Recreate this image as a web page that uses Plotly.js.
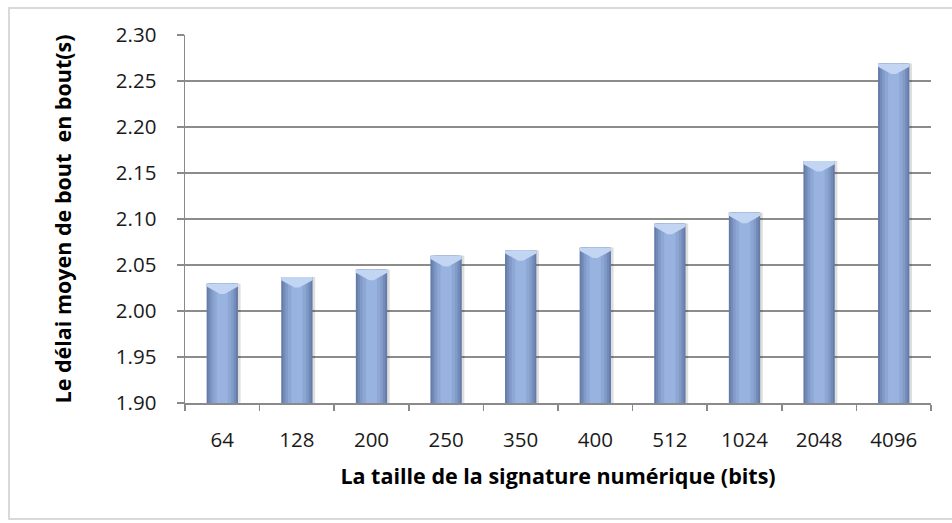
<!DOCTYPE html>
<html>
<head>
<meta charset="utf-8">
<script src="https://cdn.plot.ly/plotly-3.0.1.min.js"></script>
<style>
  html, body { margin: 0; padding: 0; background: #ffffff; overflow: hidden; width: 952px; height: 523px; }
  #frame { position: absolute; left: 8px; top: 7px; width: 980px; height: 513px;
           border: 2px solid #d9d9d9; box-sizing: border-box; }
  #chart { position: absolute; left: 0; top: 0; width: 952px; height: 523px; }
</style>
</head>
<body>
<div id="frame"></div>
<div id="chart"></div>
<script>
// Signature sizes (bits) and mean end-to-end delay (s)
const signatureSizes = ['64', '128', '200', '250', '350', '400', '512', '1024', '2048', '4096'];
const meanDelay = [2.030, 2.037, 2.045, 2.060, 2.066, 2.069, 2.095, 2.107, 2.163, 2.269];
const yTickVals = [1.90, 1.95, 2.00, 2.05, 2.10, 2.15, 2.20, 2.25, 2.30];
const yTickText = ['1.90', '1.95', '2.00', '2.05', '2.10', '2.15', '2.20', '2.25', '2.30'];

const yMin = 1.90, yMax = 2.30;
const barWidth = 0.42;

// Layered bars give the rounded, cylinder-like shading
const layers = [
  { w: barWidth, color: '#667ca8' },
  { w: 0.37, color: '#738bb8' },
  { w: 0.31, color: '#819ac7' },
  { w: 0.24, color: '#8da7d4' },
  { w: 0.15, color: '#98b3e0' }
];

const traces = [];
// soft drop shadow on the right side
traces.push({
  type: 'bar', x: signatureSizes, y: meanDelay.map(v => v - yMin), base: yMin,
  width: barWidth, offset: -barWidth / 2 + 0.035,
  marker: { color: 'rgba(0,0,0,0.13)', line: { width: 0 } },
  hoverinfo: 'skip', showlegend: false
});
layers.forEach(l => {
  traces.push({
    type: 'bar', x: signatureSizes, y: meanDelay.map(v => v - yMin), base: yMin,
    width: l.w,
    marker: { color: l.color, line: { width: 0 } },
    showlegend: false
  });
});

// Light bevelled cap on top of every bar
const capDepth = 0.0115;
const shapes = meanDelay.map((v, i) => {
  const l = i - barWidth / 2, r = i + barWidth / 2;
  return {
    type: 'path', xref: 'x', yref: 'y', layer: 'above',
    path: `M ${l} ${v} L ${r} ${v} L ${r} ${v - capDepth * 0.3} L ${i + 0.03} ${v - capDepth} L ${i - 0.03} ${v - capDepth} L ${l} ${v - capDepth * 0.3} Z`,
    fillcolor: '#c2d5f3', line: { width: 0 }
  };
});

const layout = {
  width: 952, height: 523,
  margin: { l: 185, r: 21, t: 35, b: 120 },
  paper_bgcolor: 'rgba(0,0,0,0)', plot_bgcolor: 'rgba(0,0,0,0)',
  barmode: 'overlay',
  font: { family: 'Open Sans, sans-serif', color: '#1a1a1a' },
  xaxis: {
    type: 'category',
    tickson: 'boundaries',
    ticks: 'outside', ticklen: 6, tickcolor: '#8a8a8a', tickwidth: 1.5,
    showline: true, linecolor: '#8a8a8a', linewidth: 1.5,
    showgrid: false,
    tickfont: { size: 20.5, color: '#1a1a1a' },
    ticklabelstandoff: 18,
    title: { text: 'La taille de la signature numérique (bits)', font: { size: 21.5, color: '#000', weight: 'bold' }, standoff: 17 },
    fixedrange: true
  },
  yaxis: {
    range: [yMin, yMax],
    tickvals: yTickVals, ticktext: yTickText,
    ticks: 'outside', ticklen: 7, tickcolor: '#8a8a8a', tickwidth: 1.5,
    showline: true, linecolor: '#8a8a8a', linewidth: 1.5,
    showgrid: true, gridcolor: '#8c8c8c', gridwidth: 1.2,
    zeroline: false,
    tickfont: { size: 20.5, color: '#1a1a1a' },
    ticklabelstandoff: 16,
    title: { text: 'Le délai moyen de bout  en bout(s)', font: { size: 21.5, color: '#000', weight: 'bold' }, standoff: 38 },
    fixedrange: true
  },
  shapes: shapes
};

Plotly.newPlot('chart', traces, layout, { displayModeBar: false, staticPlot: true });
</script>
</body>
</html>
